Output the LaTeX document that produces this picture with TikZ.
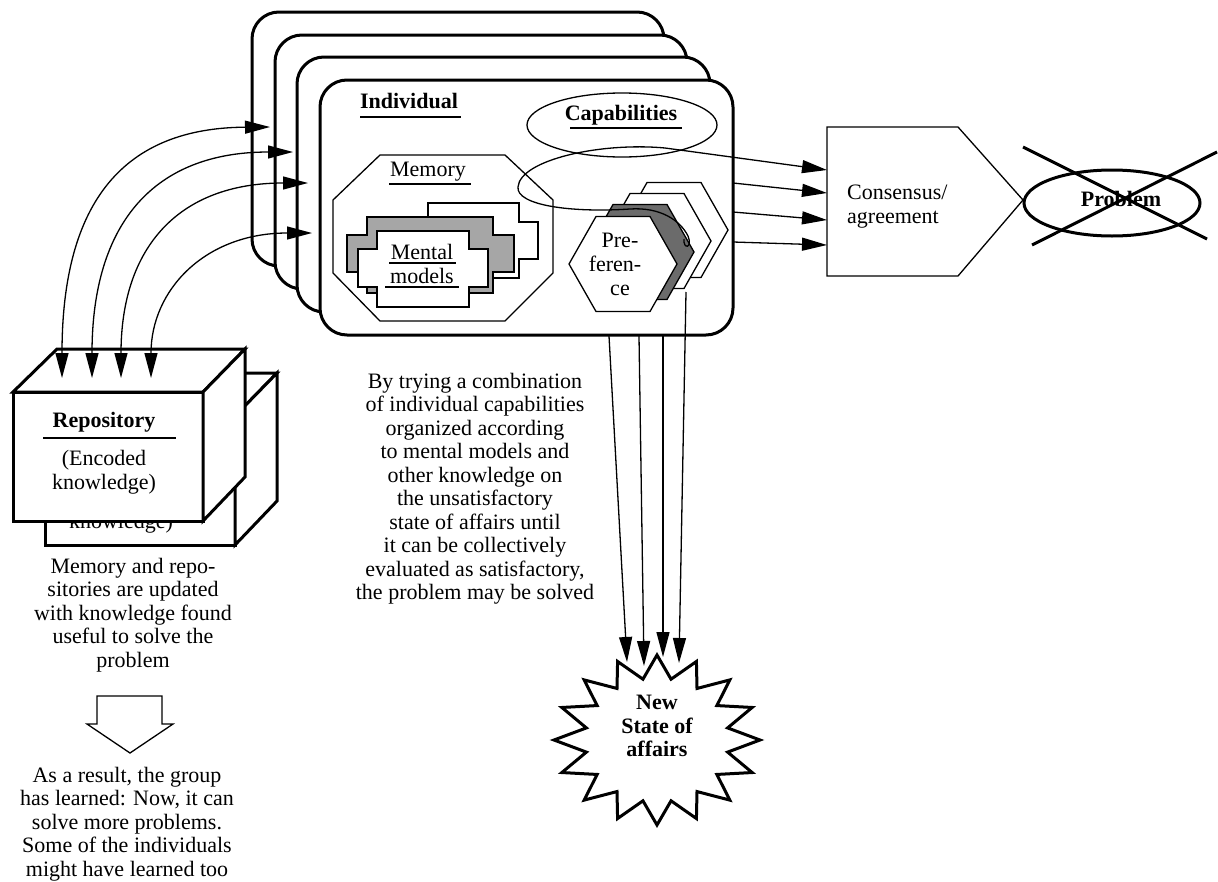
\documentclass[tikz,border=0pt]{standalone}
\usepackage{fontspec}
\setmainfont{Liberation Serif}
\usetikzlibrary{arrows.meta}
\definecolor{modelgrey}{gray}{0.65}
\definecolor{prefdark}{gray}{0.42}
\begin{document}
\begin{tikzpicture}[x=1pt,y=-1pt,
  every node/.style={inner sep=0pt, font=\fontsize{22}{23.5}\selectfont},
  lbl/.style={anchor=base},
  bf/.style={anchor=base, font=\fontsize{22}{23.5}\selectfont\bfseries},
  para/.style={anchor=north, align=center},
  card/.style={draw, line width=3pt, fill=white, rounded corners=27pt},
  fine/.style={draw, line width=1.3pt},
  heavy/.style={draw, line width=3pt},
  uline/.style={line width=1.4pt},
  >={Triangle[length=25pt,width=13pt]},
  link/.style={line width=1.3pt, ->},
  twoway/.style={line width=1.3pt, <->},
]
\useasboundingbox (0,0) rectangle (1218,881);
\fill[white] (0,0) rectangle (1218,881);

% ---- stack of individuals (back to front) ----
\draw[card] (252,12) rectangle (664,266);
\draw[card] (275,35) rectangle (687,289);
\draw[card] (297,57) rectangle (710,312);
\draw[card] (320,80) rectangle (733,335);

\node[bf] (indiv) at (409,108) {Individual};
\draw[uline] (360,117) -- (461,117);

\draw[fine] (622,125) ellipse [x radius=95, y radius=32];
\node[bf] (capab) at (621,120) {Capabilities};
\draw[uline] (570,128) -- (682,128);

% memory octagon
\draw[fine, fill=white] (380,155) -- (505,155) -- (553,200) -- (553,273) -- (505,321)
  -- (380,321) -- (333,273) -- (333,200) -- cycle;
\node[lbl] (memory) at (428,176) {Memory};
\draw[uline] (389,184) -- (471,184);

% mental models: three stepped shapes
\draw[fine, fill=white] (428,203) -- (519,203) -- (519,222) -- (538,222) -- (538,259) -- (519,259)
  -- (519,278) -- (428,278) -- (428,259) -- (409,259) -- (409,222) -- (428,222) -- cycle;
\draw[fine, fill=modelgrey] (367,217) -- (493,217) -- (493,235) -- (514,235) -- (514,272) -- (493,272)
  -- (493,293) -- (367,293) -- (367,272) -- (347,272) -- (347,235) -- (367,235) -- cycle;
\draw[fine, fill=white] (377,231) -- (469,231) -- (469,249) -- (488,249) -- (488,287) -- (469,287)
  -- (469,307) -- (377,307) -- (377,287) -- (358,287) -- (358,249) -- (377,249) -- cycle;
\node[lbl] (mental) at (422,259) {Mental};
\node[lbl] (models) at (422,283) {models};
\draw[uline] (389,263) -- (456,263);
\draw[uline] (385,287) -- (459,287);

% preference hexagons
\foreach \cx/\cy/\col in {674/230/white, 657/241/white, 640/252/prefdark, 623/264/white}{
  \draw[fine, fill=\col] (\cx-54,\cy) -- (\cx-27,\cy-47.5) -- (\cx+27,\cy-47.5) -- (\cx+54,\cy)
    -- (\cx+27,\cy+47.5) -- (\cx-27,\cy+47.5) -- cycle;
}
\node[lbl] (pre1) at (620,247) {Pre-};
\node[lbl] (pre2) at (615,271) {feren-};
\node[lbl] (pre3) at (620,295) {ce};

% ---- consensus and problem ----
\draw[fine] (827,127) -- (958,127) -- (1023,200) -- (958,276) -- (827,276) -- cycle;
\node[lbl, anchor=base west] (cons1) at (847,199) {Consensus/};
\node[lbl, anchor=base west] (cons2) at (847,223) {agreement};

\coordinate (c1) at (827,170);
\coordinate (c2) at (827,193);
\coordinate (c3) at (827,220);
\coordinate (c4) at (827,245);
\coordinate (b2) at (733,183);
\coordinate (b3) at (733,212);
\coordinate (b4) at (733,242);
\coordinate (curl) at (684,239);

\draw[link] (curl) .. controls (683,250) and (693,248) .. (688,236)
  .. controls (680,220) and (660,207) .. (630,209)
  .. controls (570,213) and (516,205) .. (518,187)
  .. controls (520,160) and (600,142) .. (665,148) -- (c1);
\draw[link] (b2) -- (c2);
\draw[link] (b3) -- (c3);
\draw[link] (b4) -- (c4);

\draw[heavy] (1112,203) ellipse [x radius=88, y radius=33];
\node[bf] (problem) at (1121,206) {Problem};
\draw[heavy] (1023,147) -- (1207,239);
\draw[heavy] (1032,245) -- (1217,152);

% ---- new state of affairs ----
\draw[heavy, fill=white, line join=miter]
  plot[samples at={0,...,31}, variable=\k]
  ({657+(87.5+15.5*cos(180*\k))*cos(90+11.25*\k)}, {740-(73.5+11.5*cos(180*\k))*sin(90+11.25*\k)}) -- cycle;
\node[bf] (new1) at (657,709) {New};
\node[bf] (new2) at (657,733) {State of};
\node[bf] (new3) at (657,756) {affairs};

\coordinate (d1) at (609,336);
\coordinate (d2) at (639,336);
\coordinate (d3) at (663,336);
\coordinate (d4) at (686,292);
\coordinate (s1) at (627,662);
\coordinate (s2) at (644,666);
\coordinate (s3) at (663,657);
\coordinate (s4) at (679,663);
\draw[link] (d1) -- (s1);
\draw[link] (d2) -- (s2);
\draw[link] (d3) -- (s3);
\draw[link] (d4) -- (s4);

\node[para] (trying) at (475,373) {By trying a combination\\of individual capabilities\\organized according\\to mental models and\\other knowledge on\\the unsatisfactory\\state of affairs until\\it can be collectively\\evaluated as satisfactory,\\the problem may be solved};

% ---- repositories ----
\draw[heavy, fill=white] (45,416) rectangle (235,545);
\draw[heavy, fill=white] (45,416) -- (89,373) -- (277,373) -- (235,416) -- cycle;
\draw[heavy, fill=white] (235,416) -- (277,373) -- (277,501) -- (235,545) -- cycle;
\node[lbl] (encB2) at (121,528) {knowledge)};

\draw[heavy, fill=white] (13,392) rectangle (203,521);
\draw[heavy, fill=white] (13,392) -- (57,349) -- (245,349) -- (203,392) -- cycle;
\draw[heavy, fill=white] (203,392) -- (245,349) -- (245,477) -- (203,521) -- cycle;
\node[bf] (repo) at (104,427) {Repository};
\draw[uline] (43,438) -- (176,438);
\node[lbl] (enc1) at (104,465) {(Encoded};
\node[lbl] (enc2) at (104,489) {knowledge)};

\coordinate (r1) at (62,378);
\coordinate (r2) at (92,378);
\coordinate (r3) at (121,378);
\coordinate (r4) at (151,378);
\coordinate (i1) at (270,127);
\coordinate (i2) at (293,152);
\coordinate (i3) at (308,183);
\coordinate (i4) at (312,233);
\draw[twoway] (r1) .. controls (62,200) and (125,128) .. (i1);
\draw[twoway] (r2) .. controls (92,222) and (155,152) .. (i2);
\draw[twoway] (r3) .. controls (121,248) and (178,183) .. (i3);
\draw[twoway] (r4) .. controls (151,290) and (205,233) .. (i4);

% ---- outcome ----
\node[para] (updated) at (133,558) {Memory and repo-\\sitories are updated\\with knowledge found\\useful to solve the\\problem};
\draw[fine, line join=miter] (97,696) -- (162,696) -- (162,724) -- (173,724) -- (130,753)
  -- (87,724) -- (97,724) -- cycle;
\node[para] (learned) at (127,767) {As a result, the group\\has learned: Now, it can\\solve more problems.\\Some of the individuals\\might have learned too};
\end{tikzpicture}
\end{document}
